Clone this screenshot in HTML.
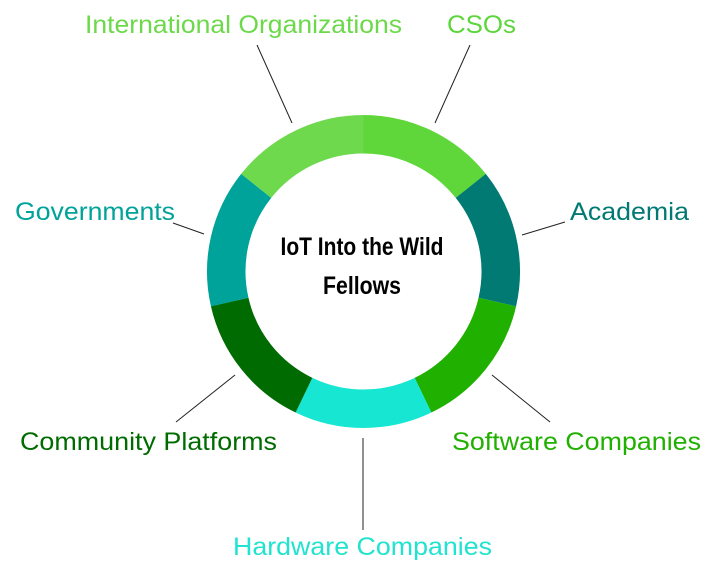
<!DOCTYPE html>
<html><head><meta charset="utf-8"><style>
html,body{margin:0;padding:0;background:#fff;}
svg{display:block;}
text{font-family:"Liberation Sans",sans-serif;font-size:25px;}
</style></head><body>
<svg width="723" height="575" viewBox="0 0 723 575">
<g fill="none" stroke-width="38.5">
<circle cx="363.5" cy="271.5" r="137.25" stroke="#5fd63a" stroke-dasharray="123.2 740" transform="rotate(-90 363.5 271.5)"/>
<circle cx="363.5" cy="271.5" r="137.25" stroke="#007a73" stroke-dasharray="123.2 740" transform="rotate(-38.57 363.5 271.5)"/>
<circle cx="363.5" cy="271.5" r="137.25" stroke="#20b000" stroke-dasharray="123.2 740" transform="rotate(12.86 363.5 271.5)"/>
<circle cx="363.5" cy="271.5" r="137.25" stroke="#16e6d2" stroke-dasharray="123.2 740" transform="rotate(64.29 363.5 271.5)"/>
<circle cx="363.5" cy="271.5" r="137.25" stroke="#006b00" stroke-dasharray="123.2 740" transform="rotate(115.71 363.5 271.5)"/>
<circle cx="363.5" cy="271.5" r="137.25" stroke="#00a39a" stroke-dasharray="123.2 740" transform="rotate(167.14 363.5 271.5)"/>
<circle cx="363.5" cy="271.5" r="137.25" stroke="#6ed94c" stroke-dasharray="123.2 740" transform="rotate(218.57 363.5 271.5)"/>
</g>
<g stroke="#222" stroke-width="1">
<line x1="257" y1="45" x2="292" y2="123"/>
<line x1="470" y1="45" x2="435" y2="123"/>
<line x1="522" y1="235" x2="565" y2="222"/>
<line x1="173" y1="223" x2="204" y2="234"/>
<line x1="492" y1="375" x2="550" y2="422"/>
<line x1="176" y1="422" x2="235" y2="375"/>
<line x1="363" y1="438" x2="363" y2="530"/>
</g>
<g lengthAdjust="spacingAndGlyphs">
<text x="85" y="33" fill="#6cd94a" textLength="317" lengthAdjust="spacingAndGlyphs">International Organizations</text>
<text x="447" y="33" fill="#5cd63a" textLength="69" lengthAdjust="spacingAndGlyphs">CSOs</text>
<text x="570" y="220" fill="#007a73" textLength="119" lengthAdjust="spacingAndGlyphs">Academia</text>
<text x="15" y="220" fill="#00a39a" textLength="160" lengthAdjust="spacingAndGlyphs">Governments</text>
<text x="452" y="450" fill="#20b000" textLength="249" lengthAdjust="spacingAndGlyphs">Software Companies</text>
<text x="20" y="450" fill="#006b00" textLength="257" lengthAdjust="spacingAndGlyphs">Community Platforms</text>
<text x="233" y="555" fill="#20e3d0" textLength="259" lengthAdjust="spacingAndGlyphs">Hardware Companies</text>
</g>
<g fill="#000" style="font-family:'Liberation Sans Narrow','Liberation Sans',sans-serif;font-size:31px;font-weight:bold">
<text x="362" y="255" text-anchor="middle" textLength="163" lengthAdjust="spacingAndGlyphs">IoT Into the Wild</text>
<text x="362" y="294" text-anchor="middle" textLength="78" lengthAdjust="spacingAndGlyphs">Fellows</text>
</g>
</svg>
</body></html>
